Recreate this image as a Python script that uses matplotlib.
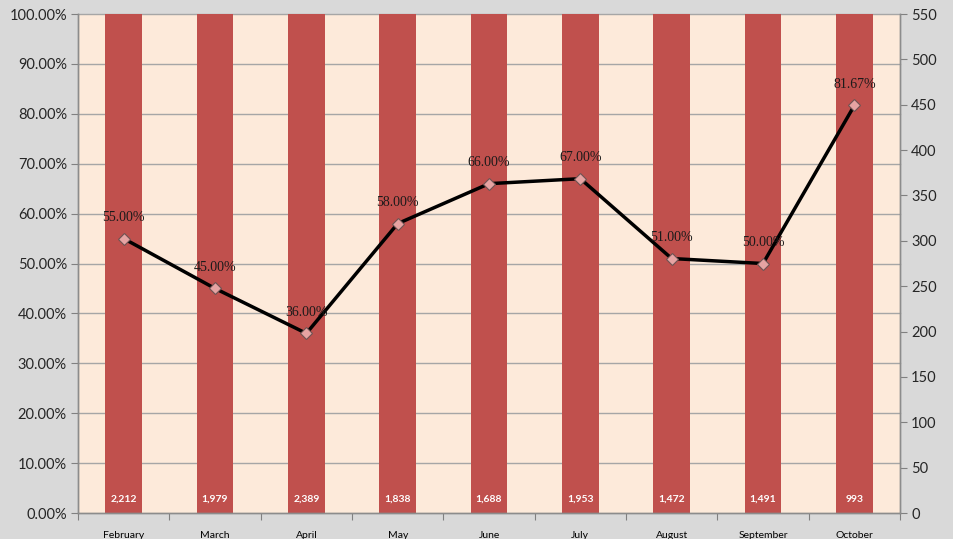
import matplotlib
matplotlib.use("Agg")
import matplotlib.pyplot as plt
import numpy as np

months = ["February", "March", "April", "May", "June", "July", "August", "September", "October"]
counts = [2212, 1979, 2389, 1838, 1688, 1953, 1472, 1491, 993]
rates = [55.00, 45.00, 36.00, 58.00, 66.00, 67.00, 51.00, 50.00, 81.67]
pct_ticks = [0, 10, 20, 30, 40, 50, 60, 70, 80, 90, 100]
right_ticks = list(range(0, 551, 50))

BG = "#D9D9D9"
PLOT_BG = "#FDEADA"
BAR = "#C0504D"
GRID = "#A6A6A6"
TICKFONT = "Lato"

fig = plt.figure(figsize=(9.54, 5.39), dpi=100, facecolor=BG)
ax = fig.add_axes([0.0818, 0.0482, 0.8616, 0.9258])
ax2 = ax.twinx()

x = np.arange(len(months))

# bars on secondary axis
ax2.patch.set_visible(True)
ax2.set_facecolor(PLOT_BG)
ax2.set_ylim(0, 550)
for p in pct_ticks[1:]:
    ax2.axhline(p / 100 * 550, color=GRID, lw=1.0, zorder=0.5, clip_on=False)
ax2.bar(x, counts, width=0.4, color=BAR, zorder=2)
for xi, c in zip(x, counts):
    ax2.annotate(f"{c:,}", (xi, 0), xytext=(0, 10), textcoords="offset points",
                 ha="center", va="center", color="white", fontsize=7.5,
                 fontweight="bold", family=TICKFONT, zorder=3)
ax2.set_yticks(right_ticks)
ax2.set_yticklabels([str(t) for t in right_ticks])

# line on primary axis, above bars
ax.set_zorder(ax2.get_zorder() + 1)
ax.patch.set_visible(False)
ax.plot(x, rates, color="black", lw=2.5, zorder=3,
        marker="D", markersize=6.5, markerfacecolor="#E6A3A2",
        markeredgecolor="#6E5353", markeredgewidth=0.8)
for xi, r in zip(x, rates):
    ax.annotate(f"{r:.2f}%", (xi, r), xytext=(0, 15), textcoords="offset points",
                ha="center", va="center", fontsize=10, family="Liberation Serif",
                color="#1a1a1a", zorder=4)
ax.set_ylim(0, 100)
ax.set_yticks(pct_ticks)
ax.set_yticklabels([f"{t:.2f}%" for t in pct_ticks])
ax.set_xlim(-0.5, len(months) - 0.5)

# x ticks at category boundaries, labels centered
ax.set_xticks(np.arange(-0.5, len(months) + 0.5, 1.0))
ax.set_xticklabels([])
ax.set_xticks(x, minor=True)
ax.set_xticklabels(months, minor=True, fontsize=7.5, family=TICKFONT)
ax.tick_params(axis="x", which="minor", length=0, pad=13)
ax.tick_params(axis="x", which="major", length=5, color="#808080", direction="out")

for a in (ax, ax2):
    for s in a.spines.values():
        s.set_color("#8C8C8C")
        s.set_linewidth(1.0)
ax2.spines["top"].set_visible(False)
ax.spines["top"].set_visible(False)

ax.tick_params(axis="y", length=5, color="#808080", labelsize=10.5, pad=3)
ax2.tick_params(axis="y", length=5, color="#808080", labelsize=10.5, pad=3)
for lbl in ax.get_yticklabels() + ax2.get_yticklabels():
    lbl.set_family(TICKFONT)
    lbl.set_color("#262626")

fig.savefig("out.png", dpi=100, facecolor=BG)
